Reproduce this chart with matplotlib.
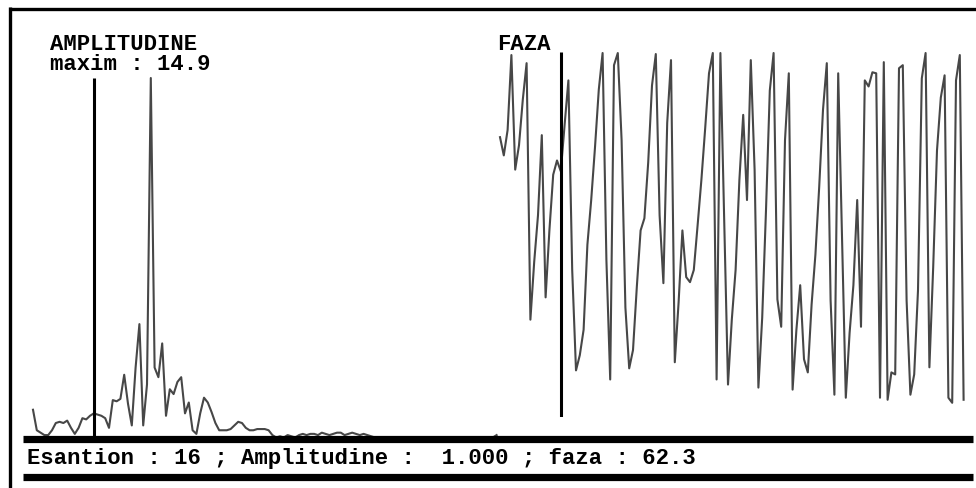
import numpy as np
import matplotlib
matplotlib.use("Agg")
import matplotlib.pyplot as plt

# spectrum values, one per sample
amplitude = [1.15, 0.3, 0.2, 0.1, 0.1, 0.3, 0.6, 0.65, 0.6, 0.7, 0.4,
             0.15, 0.4, 0.8, 0.75, 0.9, 1.0, 0.95, 0.9, 0.8, 0.4,
             1.55, 1.5, 1.6, 2.6, 1.4, 0.5, 2.9, 4.7, 0.5, 2.2, 14.9,
             2.9, 2.5, 3.9, 0.9, 2.0, 1.8, 2.3, 2.5, 1.0, 1.45, 0.3, 0.15,
             1.0, 1.65, 1.45, 1.05, 0.6, 0.3, 0.3, 0.3, 0.35, 0.5, 0.65,
             0.6, 0.4, 0.3, 0.3, 0.35, 0.35, 0.35, 0.3, 0.1,
             0.0, 0.05, 0.0, 0.1, 0.05, 0.0, 0.1, 0.15, 0.1, 0.15, 0.15,
             0.1, 0.2, 0.15, 0.1, 0.15, 0.2, 0.2, 0.1, 0.15, 0.2, 0.15,
             0.1, 0.15, 0.1, 0.05, 0.0, 0.0, 0.0] + [0.0] * 29 + [0.1]

# phase in degrees
phase = [96, 78, 103, 177, 64, 88, 133, 169, -84, -27, 19, 98, -62, 4, 59,
         73, 62.3, 108, 152, -35, -134, -119, -94, -10, 34, 86, 143, 179,
         -25, -143, 167, 179, 93, -72, -132, -114, -52, 4, 16, 71, 147,
         178, 19, -48, 110, 172, -126, -67, 4, -42, -47, -35, 9, 54, 105,
         159, 179, -143, 179, 14, -148, -84, -35, 54, 118, 34, 172, 64,
         -151, -82, 24, 142, 179, -64, -91, 93, 159, -153, -94, -50, -123,
         -136, -69, -20, 47, 123, 169, -65, -158, 159, -2, -161, -97, -50,
         34, -91, 152, 146, 160, 159, -161, 170, -163, -136, -138, 164,
         167, -65, -158, -138, -55, 154, 179, -131, -32, 83, 135, 157,
         -161, -166, 152, 177, -163]

cursor = 16
W, H = 976, 488
FONT = dict(family="Liberation Mono", weight="bold", size=16, color="black")
LINE = "#474747"

idx = np.arange(len(amplitude))
amp_max = max(amplitude)


def box(x0, x1, y_top, y_bot):
    # pixel box -> figure fraction
    return [x0 / W, 1 - y_bot / H, (x1 - x0) / W, (y_bot - y_top) / H]


fig = plt.figure(figsize=(W / 100, H / 100), dpi=100)
fig.patch.set_facecolor("white")

ax_amp = fig.add_axes(box(33, 496.6, 78, 437.5))
ax_amp.set_xlim(0, len(amplitude) - 1)
ax_amp.set_ylim(0, amp_max)
ax_amp.plot(idx, amplitude, color=LINE, lw=1.5, clip_on=False)
ax_amp.vlines(cursor, 0, amp_max, color="black", lw=2.2)
ax_amp.axis("off")

ax_ph = fig.add_axes(box(500, 963.6, 52, 417))
ax_ph.set_xlim(0, len(phase) - 1)
ax_ph.set_ylim(-180, 180)
ax_ph.plot(np.arange(len(phase)), phase, color=LINE, lw=1.5, clip_on=False)
ax_ph.vlines(cursor, -180, 180, color="black", lw=2.2)
ax_ph.axis("off")

# screen frame, bars and labels
ax = fig.add_axes([0, 0, 1, 1], zorder=5)
ax.set_xlim(0, W)
ax.set_ylim(H, 0)
ax.set_facecolor("none")
ax.axis("off")
ax.hlines(8.5, 9, W, color="black", lw=2.4)
ax.vlines(9.5, 7, H, color="black", lw=2.4)
ax.hlines(438.5, 23, 973, color="black", lw=5.2)
ax.hlines(476.5, 23, 973, color="black", lw=5.2)

ax.text(50, 50, "AMPLITUDINE", va="baseline", **FONT)
ax.text(50, 70, "maxim : %.1f" % amp_max, va="baseline", **FONT)
ax.text(497, 50, "FAZA", va="baseline", **FONT)
status = "Esantion : %d ; Amplitudine : %6.3f ; faza : %.1f" % (
    cursor, amplitude[cursor], phase[cursor])
ax.text(27, 464, status, va="baseline", **FONT)

fig.savefig("out.png", dpi=100)
